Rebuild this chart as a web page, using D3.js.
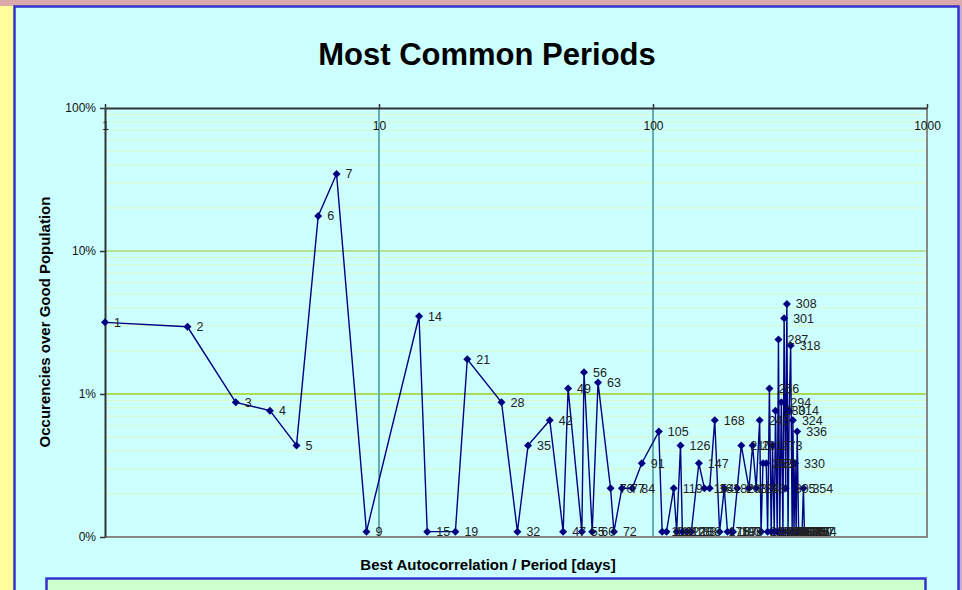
<!DOCTYPE html>
<html>
<head>
<meta charset="utf-8">
<script src="https://cdn.jsdelivr.net/npm/d3@7"></script>
<style>
  html, body { margin: 0; padding: 0; background: #dcaaaa; }
  svg { display: block; font-family: "Liberation Sans", Arial, sans-serif; }
  .tick text { font-size: 12px; font-family: "Liberation Sans", Arial, sans-serif; }
</style>
</head>
<body>
<svg id="chart" width="962" height="590"></svg>
<script>
// Best period (days) and share of the good population (%)
const periods = [1, 2, 3, 4, 5, 6, 7, 9, 14, 15, 19, 21, 28, 32, 35, 42, 47, 49, 55, 56, 60, 63,
  70, 72, 77, 84, 91, 105, 108, 112, 119, 122, 126, 128, 133, 138, 147, 154, 161, 168,
  175, 182, 187, 193, 196, 203, 210, 224, 231, 238, 245, 248, 252, 259, 262, 266, 270,
  273, 277, 280, 284, 287, 290, 294, 298, 301, 305, 308, 311, 314, 318, 322, 324, 327,
  330, 333, 336, 340, 343, 350, 354, 357, 364];
const shares = [3.169, 2.951, 0.874, 0.765, 0.437, 17.60, 34.54, 0.109, 3.497, 0.109, 0.109, 1.749,
  0.874, 0.109, 0.437, 0.656, 0.109, 1.093, 0.109, 1.421, 0.109, 1.202,
  0.219, 0.109, 0.219, 0.219, 0.328, 0.546, 0.109, 0.109, 0.219, 0.109, 0.437, 0.109, 0.109, 0.109,
  0.328, 0.219, 0.219, 0.656,
  0.109, 0.219, 0.109, 0.109, 0.109, 0.219, 0.437, 0.219, 0.437, 0.219, 0.656, 0.109, 0.328, 0.328,
  0.109, 1.093, 0.109,
  0.437, 0.109, 0.765, 0.109, 2.404, 0.109, 0.874, 0.109, 3.388, 0.219, 4.262, 0.109, 0.765, 2.186,
  0.109, 0.656, 0.109,
  0.328, 0.109, 0.546, 0.109, 0.109, 0.109, 0.219, 0.109, 0.109];

const xTicks = [1, 10, 100, 1000];
const xTickLabels = ["1", "10", "100", "1000"];
const yTicks = [0.1, 1, 10, 100];
const yTickLabels = ["0%", "1%", "10%", "100%"];

const points = periods.map((p, i) => ({period: p, share: shares[i]}));

const svg = d3.select('#chart');

// Frame: yellow strip left, lavender right, cyan chart area with blue border
svg.append('rect').attr('x', 0).attr('y', 6).attr('width', 14).attr('height', 600).attr('fill', '#ffff99');
svg.append('rect').attr('x', 959).attr('y', 6).attr('width', 10).attr('height', 600).attr('fill', '#c8aad2');
svg.append('rect')
  .attr('x', 14.5).attr('y', 6.5).attr('width', 944).attr('height', 600)
  .attr('fill', '#ccffff').attr('stroke', '#3333cc').attr('stroke-width', 2.5);

const margin = {left: 105, right: 927, top: 108, bottom: 537};

const x = d3.scaleLog().domain([1, 1000]).range([margin.left, margin.right]);
const y = d3.scaleLog().domain([0.1, 100]).range([margin.bottom, margin.top]);

// Minor horizontal gridlines
const minor = [];
[0.1, 1, 10].forEach(d => { for (let k = 2; k <= 9; k++) minor.push(d * k); });
svg.append('g').selectAll('line').data(minor).join('line')
  .attr('x1', margin.left).attr('x2', margin.right)
  .attr('y1', d => y(d)).attr('y2', d => y(d))
  .attr('stroke', '#dcf8c4').attr('stroke-width', 1);

// Major horizontal gridlines (10%, 1%)
svg.append('g').selectAll('line').data([1, 10]).join('line')
  .attr('x1', margin.left).attr('x2', margin.right)
  .attr('y1', d => y(d)).attr('y2', d => y(d))
  .attr('stroke', d => d === 1 ? '#a2cc1e' : '#acd86a').attr('stroke-width', 1.6);

// Vertical gridlines (10, 100)
svg.append('g').selectAll('line').data([10, 100]).join('line')
  .attr('x1', d => x(d)).attr('x2', d => x(d))
  .attr('y1', margin.top).attr('y2', margin.bottom)
  .attr('stroke', '#5fb0b0').attr('stroke-width', 2);

// Plot border: bottom and right in grey
svg.append('path')
  .attr('d', `M${margin.left},${margin.bottom}H${margin.right}V${margin.top}`)
  .attr('fill', 'none').attr('stroke', '#888').attr('stroke-width', 2);

// X axis sits on top of the plot, labels hang inside
const xAxis = svg.append('g').attr('transform', `translate(0,${margin.top})`)
  .call(d3.axisTop(x).tickValues(xTicks).tickFormat((d, i) => xTickLabels[i]).tickSizeOuter(0).tickSizeInner(4));
xAxis.select('.domain').attr('stroke', '#333').attr('stroke-width', 2);
xAxis.selectAll('.tick line').attr('stroke', '#333').attr('stroke-width', 1.5);
xAxis.selectAll('.tick text')
  .attr('y', 18).attr('dy', '0.32em')
  .attr('fill', '#111');

const yAxis = svg.append('g').attr('transform', `translate(${margin.left},0)`)
  .call(d3.axisLeft(y).tickValues(yTicks).tickFormat((d, i) => yTickLabels[i]).tickSizeOuter(0).tickSizeInner(5).tickPadding(4));
yAxis.select('.domain').attr('stroke', '#333').attr('stroke-width', 2);
yAxis.selectAll('.tick line').attr('stroke', '#333').attr('stroke-width', 1.5);
yAxis.selectAll('.tick text').attr('fill', '#111');

// Series line
const line = d3.line().x(d => x(d.period)).y(d => y(d.share));
svg.append('path').datum(points)
  .attr('d', line)
  .attr('fill', 'none').attr('stroke', '#000080').attr('stroke-width', 1.4);

// Diamond markers
const diamond = d3.symbol().type(d3.symbolSquare).size(32);
svg.append('g').selectAll('path').data(points).join('path')
  .attr('d', diamond)
  .attr('transform', d => `translate(${x(d.period)},${y(d.share)}) rotate(45)`)
  .attr('fill', '#000080');

// Point labels (period)
svg.append('g').selectAll('text').data(points).join('text')
  .attr('x', d => x(d.period) + 9)
  .attr('y', d => y(d.share))
  .attr('dy', '0.35em')
  .attr('font-size', 12.5)
  .attr('fill', '#222')
  .text(d => d.period);

// Titles
svg.append('text')
  .attr('x', 487).attr('y', 65)
  .attr('text-anchor', 'middle')
  .attr('font-size', 31).attr('font-weight', 'bold')
  .text('Most Common Periods');

svg.append('text')
  .attr('x', 488).attr('y', 570)
  .attr('text-anchor', 'middle')
  .attr('font-size', 15).attr('font-weight', 'bold')
  .text('Best Autocorrelation / Period [days]');

svg.append('text')
  .attr('transform', 'translate(50,322) rotate(-90)')
  .attr('text-anchor', 'middle')
  .attr('font-size', 15).attr('font-weight', 'bold')
  .text('Occurencies over Good Population');

// Box below the chart
svg.append('rect')
  .attr('x', 46.5).attr('y', 578.5).attr('width', 879).attr('height', 40)
  .attr('fill', '#ccffcc').attr('stroke', '#3333cc').attr('stroke-width', 2.5);
</script>
</body>
</html>
